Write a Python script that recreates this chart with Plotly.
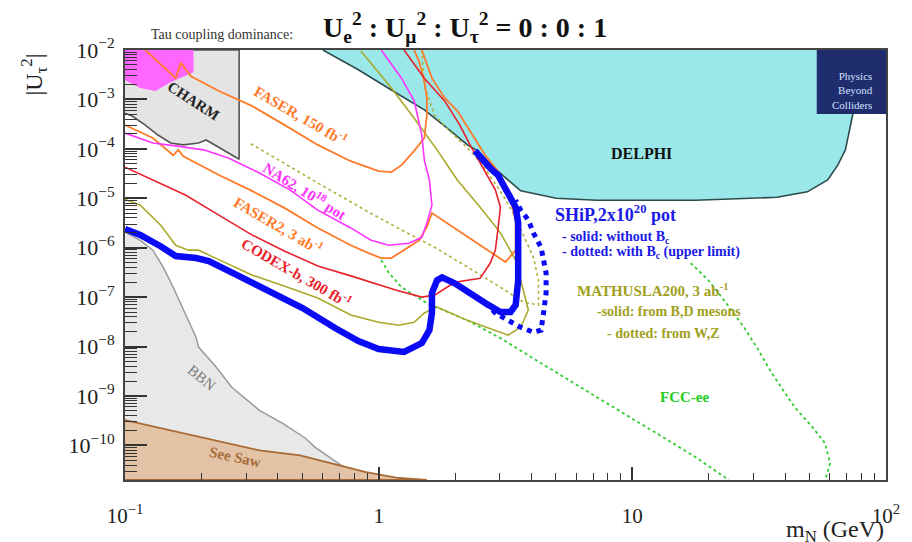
import numpy as np
import plotly.graph_objects as go

# ---- data: log10(m_N / GeV) and log10(|U_tau|^2) ----
delphi_lm = [-0.22, -0.08, 0.05, 0.18, 0.27, 0.35, 0.39, 0.47, 0.56, 0.70, 0.86, 1.25, 1.57, 1.69, 1.77, 1.81, 1.84, 1.87, 1.90, 2.00]
delphi_lu = [-2.00, -2.40, -2.81, -3.21, -3.58, -3.92, -4.04, -4.45, -4.85, -5.00, -5.04, -5.04, -4.98, -4.87, -4.63, -4.33, -4.02, -3.28, -2.00, -2.00]

charm_lm = [-1.00, -0.55, -0.55, -0.68, -0.71, -0.77, -0.82, -0.87, -0.92, -0.97, -1.00]
charm_lu = [-2.00, -2.00, -4.21, -3.82, -3.88, -3.92, -3.88, -3.72, -3.52, -3.34, -3.28]

pink_lm = [-1.00, -0.73, -0.73, -0.82, -0.88, -0.94, -1.00]
pink_lu = [-2.00, -2.00, -2.45, -2.65, -2.83, -2.77, -2.61]

bbn_lm = [-1.00, -0.94, -0.89, -0.85, -0.81, -0.77, -0.72, -0.71, -0.64, -0.58, -0.47, -0.38, -0.29, -0.25, -0.19, -0.12, -0.05, -1.00]
bbn_lu = [-5.68, -5.85, -6.05, -6.39, -6.80, -7.26, -7.81, -8.01, -8.42, -8.82, -9.29, -9.55, -9.85, -10.04, -10.26, -10.50, -10.70, -10.70]

seesaw_lm = [-1.00, -0.71, -0.47, -0.31, -0.19, -0.05, 0.08, 0.19, -1.00]
seesaw_lu = [-9.49, -9.83, -10.10, -10.20, -10.36, -10.54, -10.66, -10.70, -10.70]

faser150_lm = [-0.92, -0.80, -0.78, -0.74, -0.63, -0.50, -0.37, -0.24, -0.11, 0.00, 0.05, 0.09, 0.14, 0.18, 0.19, 0.19, 0.18, 0.16, 0.14]
faser150_lu = [-2.00, -2.57, -2.26, -2.53, -2.83, -3.13, -3.52, -3.92, -4.25, -4.45, -4.47, -4.33, -4.04, -3.78, -3.32, -2.97, -2.63, -2.24, -2.00]

na62_lm = [-1.00, -0.89, -0.80, -0.69, -0.59, -0.47, -0.35, -0.24, -0.11, -0.03, 0.04, 0.12, 0.17, 0.19, 0.21, 0.20, 0.18, 0.17, 0.14, 0.09, 0.01]
na62_lu = [-3.68, -3.88, -3.94, -4.02, -4.19, -4.49, -4.83, -5.24, -5.60, -5.85, -5.95, -5.91, -5.79, -5.50, -5.14, -4.63, -4.23, -3.72, -3.03, -2.57, -2.00]

mathwz_lm = [0.17, 0.18, 0.22, 0.28, 0.35, 0.41, 0.45, 0.49, 0.53, 0.57, 0.61, 0.63, 0.63, 0.57, 0.48, 0.35, 0.22, 0.09, -0.04, -0.24, -0.51]
mathwz_lu = [-2.00, -2.71, -3.32, -3.64, -3.98, -4.33, -4.63, -4.94, -5.30, -5.74, -6.19, -6.66, -7.16, -7.10, -6.80, -6.39, -5.99, -5.64, -5.28, -4.69, -3.88]

mathbd_lm = [-1.00, -0.94, -0.86, -0.80, -0.75, -0.71, -0.66, -0.50, -0.37, -0.24, -0.11, 0.00, 0.08, 0.14, 0.18, 0.23, 0.35, 0.51, 0.56, 0.59, 0.57, 0.54, 0.48, 0.40, 0.31, 0.23, 0.14, 0.05, -0.07]
mathbd_lu = [-5.02, -5.14, -5.54, -5.95, -6.05, -6.05, -6.17, -6.55, -6.78, -7.02, -7.36, -7.51, -7.57, -7.51, -7.32, -7.20, -7.47, -7.77, -7.61, -7.26, -6.86, -6.25, -5.70, -5.18, -4.63, -4.02, -3.38, -2.77, -2.02]

faser2_lm = [-1.00, -0.89, -0.81, -0.79, -0.77, -0.63, -0.50, -0.37, -0.24, -0.11, -0.04, 0.01, 0.05, 0.10, 0.16, 0.19, 0.21, 0.50, 0.54, 0.54, 0.52, 0.50, 0.47, 0.42, 0.36, 0.31, 0.26, 0.21, 0.17]
faser2_lu = [-3.52, -3.78, -4.13, -4.02, -4.15, -4.53, -4.85, -5.20, -5.60, -5.95, -6.11, -6.21, -6.21, -6.05, -5.85, -5.58, -5.30, -6.29, -6.05, -5.44, -5.04, -4.79, -4.45, -4.13, -3.64, -3.23, -2.97, -2.57, -2.00]

codex_lm = [-1.00, -0.89, -0.76, -0.63, -0.50, -0.37, -0.24, -0.11, -0.04, 0.07, 0.17, 0.22, 0.30, 0.40, 0.44, 0.46, 0.47, 0.48, 0.46, 0.42, 0.39, 0.36, 0.32, 0.26, 0.18, 0.10]
codex_lu = [-4.37, -4.63, -4.94, -5.34, -5.74, -6.07, -6.37, -6.57, -6.68, -6.86, -7.00, -6.96, -6.70, -6.62, -6.31, -6.05, -5.64, -5.18, -4.83, -4.47, -4.19, -3.92, -3.52, -3.03, -2.57, -2.00]

fcc1_lm = [0.01, 0.04, 0.09, 0.19, 0.35, 0.48, 0.60, 0.73, 0.86, 0.99, 1.12, 1.25, 1.38]
fcc1_lu = [-6.25, -6.51, -6.80, -7.12, -7.47, -7.83, -8.21, -8.62, -9.02, -9.43, -9.83, -10.24, -10.70]
fcc2_lm = [1.23, 1.30, 1.37, 1.44, 1.49, 1.55, 1.64, 1.71, 1.76, 1.78, 1.76]
fcc2_lu = [-6.31, -6.66, -7.12, -7.61, -8.01, -8.54, -9.23, -9.63, -9.96, -10.36, -10.70]

shipdot_lm = [0.42, 0.46, 0.51, 0.56, 0.61, 0.64, 0.65, 0.66, 0.66, 0.65, 0.64, 0.61, 0.59, 0.56, 0.54]
shipdot_lu = [-7.12, -7.32, -7.47, -7.61, -7.71, -7.67, -7.32, -6.92, -6.51, -6.25, -5.99, -5.70, -5.44, -5.24, -5.04]

ship_lm = [-1.00, -0.94, -0.86, -0.80, -0.72, -0.67, -0.56, -0.43, -0.30, -0.17, -0.08, 0.00, 0.06, 0.10, 0.17, 0.20, 0.21, 0.21, 0.23, 0.25, 0.30, 0.35, 0.42, 0.48, 0.52, 0.54, 0.55, 0.55, 0.55, 0.54, 0.51, 0.47, 0.44, 0.38]
ship_lu = [-5.62, -5.74, -5.97, -6.17, -6.21, -6.27, -6.55, -6.88, -7.22, -7.63, -7.89, -8.05, -8.09, -8.11, -7.93, -7.67, -7.32, -6.92, -6.66, -6.60, -6.72, -6.90, -7.12, -7.30, -7.30, -7.16, -6.66, -5.99, -5.50, -5.18, -4.89, -4.53, -4.39, -4.04]

x_tick_vals = [0.1, 1, 10, 100]
x_tick_text = ["10<sup>\u22121</sup>", "1", "10", "10<sup>2</sup>"]
y_tick_exps = [-2, -3, -4, -5, -6, -7, -8, -9, -10]
# ------------------------------------------------------------------------------

def P(a):
    return 10 ** np.asarray(a, dtype=float)

SERIF = "Liberation Serif"
fig = go.Figure()

def area(lm, lu, fill, line, width=1.5):
    fig.add_trace(go.Scatter(x=P(lm), y=P(lu), mode="lines", fill="toself",
                             fillcolor=fill,
                             line=dict(color=line, width=width), hoverinfo="skip"))

def curve(lm, lu, color, width=1.8, dash="solid"):
    fig.add_trace(go.Scatter(x=P(lm), y=P(lu), mode="lines",
                             line=dict(color=color, width=width, dash=dash), hoverinfo="skip"))

area(delphi_lm, delphi_lu, "#9be8ea", "#2e4b4b", 1.6)
area(charm_lm, charm_lu, "#e4e4e4", "#555555", 1.6)
area(pink_lm, pink_lu, "#ff66ff", "rgba(0,0,0,0)", 0)
area(bbn_lm, bbn_lu, "#e8e8e8", "#9a9a9a", 1.5)
area(seesaw_lm, seesaw_lu, "#e2c3a6", "#a86a35", 1.8)

curve(mathwz_lm, mathwz_lu, "#b0b040", 1.6, "dot")
curve(fcc1_lm, fcc1_lu, "#33cc33", 1.8, "dot")
curve(fcc2_lm, fcc2_lu, "#33cc33", 1.8, "dot")
curve(mathbd_lm, mathbd_lu, "#a9a92b", 1.6)
curve(faser150_lm, faser150_lu, "#ff7a28", 1.8)
curve(faser2_lm, faser2_lu, "#ff7a28", 1.8)
curve(na62_lm, na62_lu, "#ff33ff", 1.6)
curve(codex_lm, codex_lu, "#e8202a", 1.6)
curve(shipdot_lm, shipdot_lu, "#0a0af5", 5, "dot")
curve(ship_lm, ship_lu, "#0a0af5", 6.5)

fig.update_xaxes(type="log", range=[-1, 2], showgrid=False, zeroline=False,
                 tickmode="array", tickvals=x_tick_vals, ticktext=x_tick_text,
                 ticks="inside", ticklen=13, tickwidth=1.5, tickcolor="#333",
                 showline=True, linecolor="#444", linewidth=2, mirror=True,
                 ticklabelstandoff=16,
                 tickfont=dict(family=SERIF, size=21, color="#222"),
                 minor=dict(ticks="inside", ticklen=7, tickwidth=1.2, tickcolor="#333",
                            dtick="D1", showgrid=False))
fig.update_yaxes(type="log", range=[-10.7, -2], showgrid=False, zeroline=False,
                 tickmode="array", tickvals=[10.0 ** e for e in y_tick_exps],
                 ticktext=["10<sup>\u2212%d</sup>" % (-e) for e in y_tick_exps],
                 ticks="inside", ticklen=22, tickwidth=1.5, tickcolor="#333",
                 showline=True, linecolor="#444", linewidth=2, mirror=True,
                 ticklabelstandoff=4,
                 tickfont=dict(family=SERIF, size=22, color="#222"),
                 minor=dict(ticks="inside", ticklen=12, tickwidth=1.2, tickcolor="#333",
                            dtick="D1", showgrid=False))

ann = []
def label(txt, x, y, color, size=15, angle=0, xanchor="center", bold=True):
    ann.append(dict(text=("<b>%s</b>" % txt) if bold else txt, x=x, y=y, xref="paper", yref="paper",
                    xanchor=xanchor, yanchor="middle", showarrow=False, textangle=angle,
                    font=dict(family=SERIF, size=size, color=color)))

label("CHARM", 0.090, 0.881, "#222", 15, 33)
label("FASER, 150 fb<sup>-1</sup>", 0.231, 0.849, "#ff7a28", 15, 30)
label("NA62, 10<sup>18</sup> pot", 0.236, 0.674, "#ff33ff", 15, 32)
label("FASER2, 3 ab<sup>-1</sup>", 0.202, 0.593, "#ff7a28", 15, 30)
label("CODEX-b, 300 fb<sup>-1</sup>", 0.225, 0.484, "#e8202a", 15, 30)
label("DELPHI", 0.679, 0.760, "#111", 16)
label("BBN", 0.101, 0.237, "#7a7a7a", 15, 40, bold=False)
label("See Saw", 0.144, 0.053, "#a86a35", 15, 12)
label("FCC-ee", 0.735, 0.193, "#22cc22", 15)
label("SHiP,2x10<sup>20</sup> pot", 0.563, 0.619, "#1a1ae6", 18, xanchor="left")
label("- solid: without B<sub>c</sub>", 0.572, 0.565, "#1a1ae6", 14, xanchor="left")
label("- dotted: with B<sub>c</sub> (upper limit)", 0.572, 0.530, "#1a1ae6", 14, xanchor="left")
label("MATHUSLA200, 3 ab<sup>-1</sup>", 0.591, 0.442, "#a0a020", 15, xanchor="left")
label("-solid: from B,D mesons", 0.617, 0.391, "#a0a020", 14, xanchor="left")
label("- dotted: from W,Z", 0.631, 0.340, "#a0a020", 14, xanchor="left")

label("Tau coupling dominance:", 0.127, 1.035, "#333", 14, bold=False)
label("U<sub>e</sub><sup>2</sup> : U<sub>\u03bc</sub><sup>2</sup> : U<sub>\u03c4</sub><sup>2</sup> = 0 : 0 : 1",
      0.258, 1.052, "#111", 28, xanchor="left")
label("|U<sub>\u03c4</sub><sup>2</sup>|", -0.120, 0.942, "#222", 24, -90, bold=False)
ann.append(dict(text="m<sub>N</sub> (GeV)", x=1.0, y=-0.118, xref="paper", yref="paper",
                xanchor="right", yanchor="middle", showarrow=False,
                font=dict(family=SERIF, size=24, color="#222")))
ann.append(dict(text="Physics<br>Beyond<br>Colliders", x=0.985, y=0.905, xref="paper", yref="paper",
                xanchor="right", yanchor="middle", showarrow=False, align="right",
                font=dict(family=SERIF, size=11, color="#cfe2ff")))

fig.update_layout(
    width=912, height=542,
    margin=dict(l=125, r=21, t=50, b=62),
    paper_bgcolor="white", plot_bgcolor="white",
    showlegend=False,
    annotations=ann,
    shapes=[dict(type="rect", xref="paper", yref="paper", x0=0.909, x1=1.0, y0=0.851, y1=1.0,
                 fillcolor="#1f2d6e", line=dict(width=0), layer="above")],
)

fig.write_html("out.html")
